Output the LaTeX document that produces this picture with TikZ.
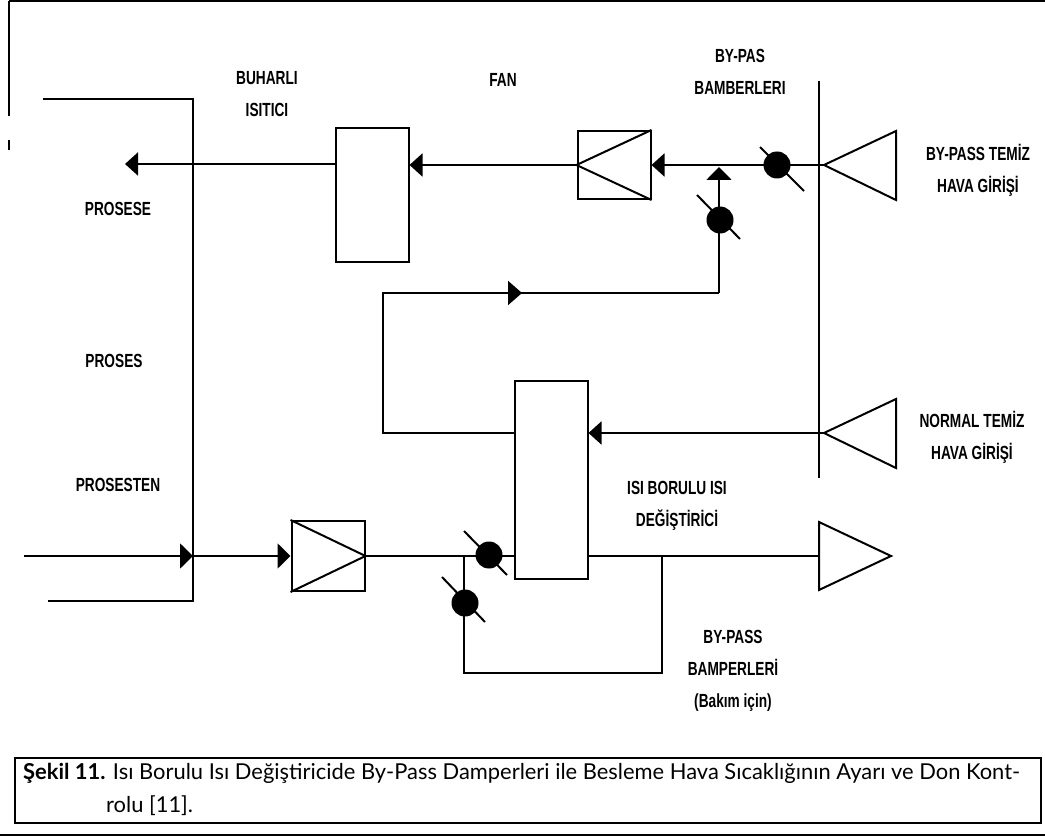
\documentclass[tikz,border=0pt]{standalone}
\usepackage{fontspec}
\usetikzlibrary{arrows.meta,calc}
\setmainfont{Lato}
\newfontfamily\lblfont[FakeStretch=0.72]{Liberation Sans Bold}
\tikzset{
   lbl/.style={font=\lblfont\fontsize{19}{32}\selectfont,align=center,inner sep=0pt},
   captxt/.style={font=\fontsize{21.9}{24}\selectfont,anchor=west,inner sep=0pt},
   pipe/.style={line width=2pt},
   boxn/.style={draw,line width=2pt,rectangle,inner sep=0pt,minimum width=#1},
   fl/.style={-{Triangle[length=13pt,width=23pt]},line width=2pt}
}
% damper: disc with a slanted stroke
\newcommand{\dampr}[3]{
   \draw[line width=2pt] ($(#1)+(#2)$) -- ($(#1)+(#3)$);
   \fill (#1) circle (13.5);
}
\begin{document}
\begin{tikzpicture}[x=1pt,y=-1pt]
\useasboundingbox (0,0) rectangle (1045,837);
% frame
\draw[line width=2pt] (9,1) -- (1045,1);
\draw[line width=1.5pt] (9,1) -- (9,116);
\draw[line width=1.5pt] (9,140) -- (9,150);
% process
\coordinate (pt) at (43,99);
\coordinate (pc) at (193,99);
\coordinate (pb) at (193,601);
\coordinate (pe) at (48,601);
\draw[pipe] (pt) -- (pc) -- (pb) -- (pe);
\coordinate (wt) at (819,81);
\coordinate (wb) at (819,478);
\draw[pipe] (wt) -- (wb);
% equipment
\node[boxn=73pt,minimum height=134pt] (htr) at (372,195) {};
\node[boxn=73pt,minimum height=68pt] (fan) at (614,165) {};
\node[boxn=73pt,minimum height=198pt] (hx) at (551,480) {};
\node[boxn=73pt,minimum height=70pt] (fan2) at (328,556) {};
\draw[pipe] (fan.north east) -- (fan.west) -- (fan.south east);
\draw[pipe] (fan2.north west) -- (fan2.east) -- (fan2.south west);
% grilles
\coordinate (g1) at (824,165);
\draw[pipe] (g1) -- (896,131) -- (896,200) -- cycle;
\coordinate (g2) at (824,433);
\draw[pipe] (g2) -- (896,399) -- (896,468) -- cycle;
\coordinate (g3) at (891,556);
\draw[pipe] (g3) -- (819,522) -- (819,590) -- cycle;
% top line
\coordinate (out) at (125,164);
\draw[fl] (htr.west |- out) -- (out);
\draw[fl] (fan.west) -- (htr.east |- fan);
\draw[fl] (g1) -- (fan.east);
% bypass
\coordinate (byA) at (383,293);
\coordinate (byB) at (719,293);
\coordinate (byC) at (719,167);
\coordinate (byD) at (383,433);
\draw[pipe] (hx.west |- byD) -- (byD) -- (byA) -- (byB);
\draw[-{Triangle[length=13pt,width=25pt]},line width=2pt] (byB) -- (byC);
\draw[-{Triangle[length=14pt,width=24pt]},line width=2pt] (byA) -- (522,293);
\draw[fl] (g2) -- (hx.east |- g2);
% bottom line
\coordinate (in) at (24,556);
\draw[-{Triangle[length=13pt,width=25pt]},line width=2pt] (in) -- (193,556);
\draw[-{Triangle[length=13pt,width=25pt]},line width=2pt] (193,556) -- (fan2.west);
\draw[pipe] (fan2.east) -- (hx.west |- fan2);
\draw[pipe] (hx.east |- fan2) -- (819,556);
\coordinate (lpa) at (464,556);
\coordinate (lpb) at (464,673);
\coordinate (lpc) at (662,673);
\coordinate (lpd) at (662,556);
\draw[pipe] (lpa) -- (lpb) -- (lpc) -- (lpd);
% dampers
\dampr{777,165}{-17,-18}{27,26}
\dampr{720,220}{-23,-25}{20,19}
\dampr{489,555}{-25,-24}{18,20}
\dampr{465,603}{-23,-26}{20,19}
% labels
\node[lbl] (nBuh) at (267,94) {BUHARLI\\ISITICI};
\node[lbl] (nFan) at (503,80) {FAN};
\node[lbl] (nByp) at (740,72) {BY-PAS\\BAMBERLERI};
\node[lbl] (nTmz) at (978,170) {BY-PASS TEMİZ\\HAVA GİRİŞİ};
\node[lbl] (nPre) at (118,209) {PROSESE};
\node[lbl] (nPrs) at (114,361) {PROSES};
\node[lbl] (nPrt) at (118,485) {PROSESTEN};
\node[lbl] (nNrm) at (972,437) {NORMAL TEMİZ\\HAVA GİRİŞİ};
\node[lbl] (nHex) at (677,506) {ISI BORULU ISI\\DEĞİŞTİRİCİ};
\node[lbl] (nBmp) at (733,671) {BY-PASS\\BAMPERLERİ\\(Bakım için)};
% caption
\draw[line width=2pt] (15,758) rectangle (1041,823);
\draw[line width=2.5pt] (0,835) -- (1045,835);
\node[captxt] (nCap) at (23,773) {\textbf{Şekil 11.} Isı Borulu Isı Değiştiricide By-Pass Damperleri ile Besleme Hava Sıcaklığının Ayarı ve Don Kont-};
\node[captxt] (nCap2) at (106,806) {rolu [11].};
\end{tikzpicture}
\end{document}
